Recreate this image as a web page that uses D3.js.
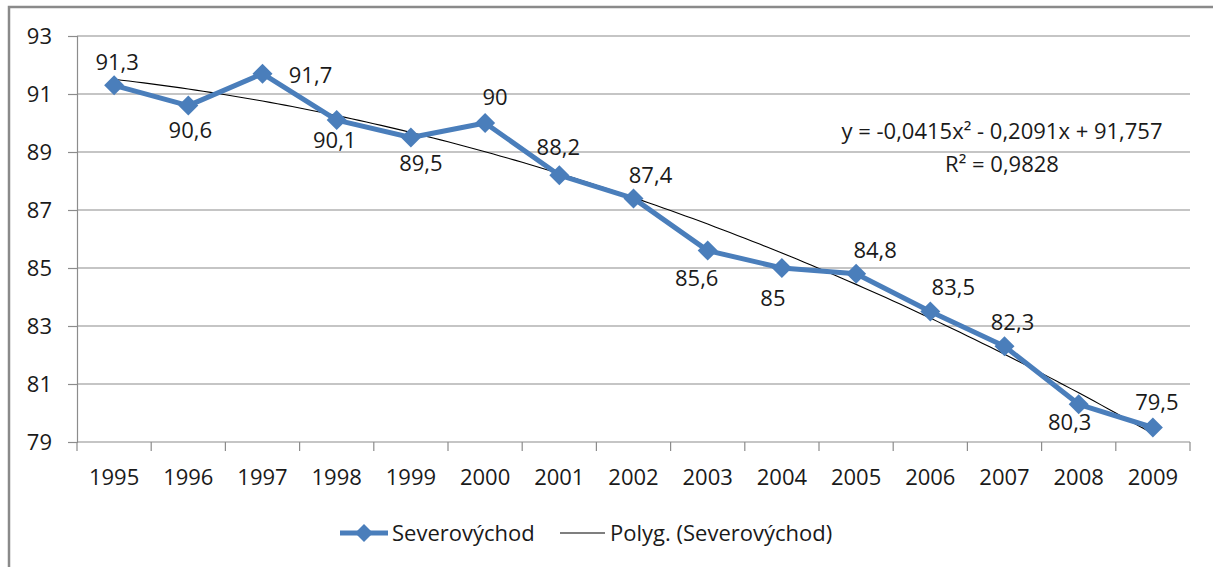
<!DOCTYPE html>
<html>
<head>
<meta charset="utf-8">
<script src="https://cdn.jsdelivr.net/npm/d3@7"></script>
<style>
  html, body { margin: 0; padding: 0; background: #fff; }
  text { font-family: "Open Sans", "Liberation Sans", sans-serif; fill: #1a1a1a; }
</style>
</head>
<body>
<div id="chart"></div>
<script>
// data
const years = ["1995","1996","1997","1998","1999","2000","2001","2002","2003","2004","2005","2006","2007","2008","2009"];
const values = [91.3, 90.6, 91.7, 90.1, 89.5, 90, 88.2, 87.4, 85.6, 85, 84.8, 83.5, 82.3, 80.3, 79.5];
const yTicks = [79, 81, 83, 85, 87, 89, 91, 93];
// polynomial trend coefficients as printed on the chart (x = 1..15)
const trendCoef = [-0.0415, -0.2091, 91.757];
const trendLabel = ["y = -0,0415x\u00b2 - 0,2091x + 91,757", "R\u00b2 = 0,9828"];
const seriesName = "Severov\u00fdchod";
const trendName = "Polyg. (Severov\u00fdchod)";

// label placement relative to each point (layout, not data)
const labelOffsets = [[3,-23],[2,24],[48,1],[-2,20],[10,26],[10,-26],[-1,-28],[17,-23],
                      [-11,27],[-9,30],[19,-24],[23,-24],[8,-24],[-9,18],[4,-25]];

const W = 1213, H = 567;
const margin = { top: 36, right: 23, bottom: 125, left: 77 };
const fs = 22;
const blue = "#4a7ebb";
const grid = "#8c8c8c";

const svg = d3.select("#chart").append("svg")
  .attr("width", W).attr("height", H);

svg.append("rect").attr("width", W).attr("height", H).attr("fill", "#fff");
// outer chart border (left, top visible)
svg.append("path")
  .attr("d", `M${W + 5},7 H9 V${H + 5}`)
  .attr("fill", "none").attr("stroke", "#8a8a8a").attr("stroke-width", 2.5);

const x = d3.scaleBand().domain(years).range([margin.left, W - margin.right]);
const y = d3.scaleLinear().domain([79, 93]).range([442, margin.top]);

// gridlines
svg.append("g").selectAll("line").data(yTicks.filter(t => t > 79)).join("line")
  .attr("x1", margin.left).attr("x2", W - margin.right)
  .attr("y1", d => y(d)).attr("y2", d => y(d))
  .attr("stroke", grid).attr("stroke-width", 1.2);

// y axis
const yAxis = svg.append("g")
  .attr("transform", `translate(${margin.left},0)`)
  .call(d3.axisLeft(y).tickValues(yTicks).tickSize(9).tickPadding(16).tickFormat(d3.format("d")));
yAxis.select(".domain").attr("stroke", grid).attr("stroke-width", 1.2);
yAxis.selectAll(".tick line").attr("stroke", grid).attr("stroke-width", 1.2);
yAxis.selectAll("text").attr("font-size", fs).attr("fill", "#1a1a1a");

// x axis, ticks between categories
const xAxis = svg.append("g").attr("transform", `translate(0,${y(79)})`);
xAxis.append("line")
  .attr("x1", margin.left).attr("x2", W - margin.right)
  .attr("stroke", grid).attr("stroke-width", 1.2);
const edges = years.map(d => x(d)).concat([x(years[years.length - 1]) + x.bandwidth()]);
xAxis.selectAll(".edge").data(edges).join("line")
  .attr("x1", d => d).attr("x2", d => d).attr("y1", 0).attr("y2", 9)
  .attr("stroke", grid).attr("stroke-width", 1.2);
xAxis.selectAll("text").data(years).join("text")
  .attr("x", d => x(d) + x.bandwidth() / 2).attr("y", 43)
  .attr("text-anchor", "middle").attr("font-size", fs)
  .text(d => d);

const cx = (d, i) => x(years[i]) + x.bandwidth() / 2;

// trendline
const trendFn = t => trendCoef[0] * t * t + trendCoef[1] * t + trendCoef[2];
const tx = d3.scaleLinear().domain([1, years.length])
  .range([cx(null, 0), cx(null, years.length - 1)]);
const trendPts = d3.range(1, years.length + 0.001, 0.1).map(t => [tx(t), y(trendFn(t))]);
svg.append("path")
  .attr("d", d3.line()(trendPts))
  .attr("fill", "none").attr("stroke", "#000").attr("stroke-width", 1.1);

// series line
svg.append("path")
  .datum(values)
  .attr("d", d3.line().x(cx).y(d => y(d)))
  .attr("fill", "none").attr("stroke", blue).attr("stroke-width", 5)
  .attr("stroke-linejoin", "round");

const diamond = r => `M0,${-r}L${r},0L0,${r}L${-r},0Z`;
svg.append("g").selectAll("path").data(values).join("path")
  .attr("transform", (d, i) => `translate(${cx(d, i)},${y(d)})`)
  .attr("d", diamond(10))
  .attr("fill", blue);

// data labels
svg.append("g").selectAll("text").data(values).join("text")
  .attr("x", (d, i) => cx(d, i) + labelOffsets[i][0])
  .attr("y", (d, i) => y(d) + labelOffsets[i][1])
  .attr("dy", "0.36em")
  .attr("text-anchor", "middle").attr("font-size", fs)
  .text(d => d3.format("")(d).replace(".", ","));

// trend equation
svg.append("g").selectAll("text").data(trendLabel).join("text")
  .attr("x", 1002).attr("y", (d, i) => 139 + i * 33)
  .attr("text-anchor", "middle").attr("font-size", fs)
  .text(d => d);

// legend
const lg = svg.append("g").attr("transform", "translate(0,533)");
lg.append("line").attr("x1", 340).attr("x2", 388)
  .attr("stroke", blue).attr("stroke-width", 5);
lg.append("path").attr("transform", "translate(364,0)").attr("d", diamond(9)).attr("fill", blue);
lg.append("text").attr("x", 392).attr("dy", "0.36em").attr("font-size", fs).text(seriesName);
lg.append("line").attr("x1", 560).attr("x2", 605)
  .attr("stroke", "#000").attr("stroke-width", 1.1);
lg.append("text").attr("x", 610).attr("dy", "0.36em").attr("font-size", fs).text(trendName);
</script>
</body>
</html>
